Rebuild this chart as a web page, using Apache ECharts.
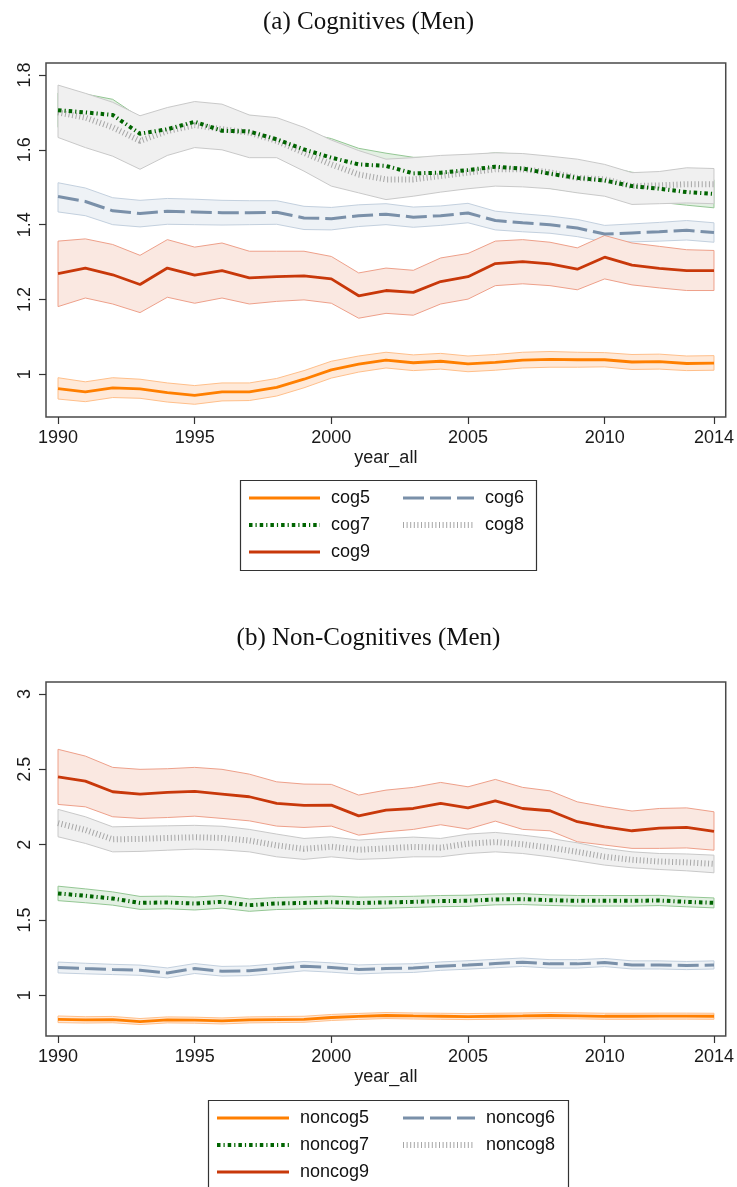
<!DOCTYPE html>
<html>
<head>
<meta charset="utf-8">
<script src="https://cdn.jsdelivr.net/npm/echarts@6/dist/echarts.min.js"></script>
<style>
  html, body { margin: 0; padding: 0; background: #fff; }
  #chart { width: 737px; height: 1187px; }
</style>
</head>
<body>
<div id="chart"></div>
<script>
// Survey years
const years = [1990,1991,1992,1993,1994,1995,1996,1997,1998,1999,2000,2001,2002,2003,2004,2005,2006,2007,2008,2009,2010,2011,2012,2013,2014];
const xTicks = [1990, 1995, 2000, 2005, 2010, 2014];
const yTicksCog = [1, 1.2, 1.4, 1.6, 1.8];
const yTicksNoncog = [1, 1.5, 2, 2.5, 3];

// (a) Cognitive skill groups: point estimate with lower / upper confidence bounds
const cog5   = [0.962,0.953,0.964,0.961,0.951,0.944,0.953,0.953,0.965,0.987,1.012,1.027,1.038,1.031,1.035,1.028,1.032,1.038,1.040,1.039,1.039,1.033,1.034,1.029,1.030];
const cog5Lo = [0.934,0.927,0.938,0.936,0.926,0.920,0.929,0.930,0.942,0.964,0.990,1.006,1.017,1.010,1.014,1.007,1.011,1.017,1.019,1.019,1.020,1.013,1.014,1.010,1.011];
const cog5Hi = [0.991,0.980,0.991,0.987,0.977,0.970,0.977,0.977,0.989,1.010,1.035,1.049,1.059,1.052,1.056,1.049,1.053,1.059,1.061,1.059,1.058,1.053,1.054,1.049,1.050];

const cog6   = [1.475,1.462,1.437,1.430,1.436,1.434,1.432,1.432,1.433,1.418,1.416,1.424,1.428,1.420,1.424,1.431,1.411,1.405,1.400,1.391,1.375,1.378,1.381,1.385,1.379];
const cog6Lo = [1.434,1.424,1.400,1.394,1.401,1.400,1.399,1.400,1.401,1.387,1.386,1.395,1.400,1.393,1.398,1.405,1.386,1.381,1.377,1.368,1.354,1.354,1.356,1.359,1.353];
const cog6Hi = [1.512,1.498,1.472,1.465,1.470,1.468,1.465,1.464,1.464,1.449,1.446,1.453,1.456,1.447,1.450,1.457,1.436,1.429,1.423,1.414,1.398,1.402,1.406,1.411,1.405];

const cog7   = [1.706,1.700,1.693,1.643,1.655,1.675,1.651,1.649,1.628,1.601,1.579,1.561,1.557,1.537,1.539,1.546,1.555,1.550,1.536,1.525,1.518,1.503,1.496,1.487,1.482];
const cog7Lo = [1.660,1.652,1.650,1.600,1.610,1.632,1.607,1.606,1.584,1.556,1.530,1.522,1.523,1.494,1.498,1.507,1.518,1.512,1.497,1.487,1.481,1.466,1.460,1.452,1.445];
const cog7Hi = [1.752,1.749,1.735,1.686,1.700,1.718,1.695,1.692,1.672,1.646,1.630,1.604,1.591,1.580,1.580,1.585,1.592,1.588,1.575,1.563,1.555,1.540,1.533,1.525,1.520];

const cog8   = [1.700,1.686,1.660,1.624,1.650,1.666,1.655,1.646,1.624,1.592,1.561,1.534,1.521,1.521,1.530,1.539,1.548,1.548,1.540,1.525,1.521,1.503,1.505,1.508,1.508];
const cog8Lo = [1.633,1.606,1.583,1.548,1.585,1.606,1.600,1.579,1.579,1.543,1.503,1.485,1.467,1.476,1.487,1.496,1.503,1.501,1.496,1.485,1.476,1.454,1.456,1.458,1.456];
const cog8Hi = [1.773,1.751,1.727,1.691,1.713,1.729,1.722,1.693,1.686,1.660,1.626,1.598,1.575,1.579,1.585,1.588,1.592,1.590,1.583,1.575,1.561,1.539,1.542,1.552,1.550];

const cog9   = [1.269,1.284,1.266,1.240,1.284,1.265,1.277,1.258,1.261,1.263,1.255,1.210,1.224,1.219,1.248,1.261,1.296,1.301,1.295,1.281,1.313,1.292,1.283,1.277,1.277];
const cog9Lo = [1.181,1.204,1.188,1.165,1.206,1.190,1.204,1.188,1.195,1.199,1.190,1.150,1.163,1.158,1.188,1.201,1.237,1.242,1.237,1.226,1.255,1.239,1.231,1.224,1.224];
const cog9Hi = [1.356,1.362,1.347,1.318,1.360,1.340,1.351,1.329,1.329,1.329,1.315,1.271,1.284,1.278,1.311,1.323,1.356,1.360,1.353,1.338,1.371,1.351,1.342,1.333,1.331];

// (b) Non-cognitive skill groups
const noncog5   = [0.840,0.836,0.838,0.825,0.836,0.834,0.829,0.836,0.838,0.840,0.852,0.859,0.865,0.862,0.860,0.858,0.860,0.862,0.865,0.863,0.860,0.860,0.861,0.861,0.860];
const noncog5Lo = [0.818,0.815,0.817,0.805,0.816,0.814,0.809,0.816,0.818,0.820,0.832,0.839,0.845,0.842,0.840,0.838,0.840,0.842,0.845,0.843,0.840,0.840,0.841,0.841,0.840];
const noncog5Hi = [0.862,0.857,0.859,0.845,0.856,0.854,0.849,0.856,0.858,0.860,0.872,0.879,0.885,0.882,0.880,0.878,0.880,0.882,0.885,0.883,0.880,0.880,0.881,0.881,0.880];

const noncog6   = [1.184,1.177,1.171,1.166,1.148,1.177,1.159,1.162,1.177,1.193,1.184,1.171,1.177,1.180,1.193,1.201,1.210,1.219,1.208,1.208,1.217,1.201,1.201,1.197,1.201];
const noncog6Lo = [1.148,1.142,1.137,1.132,1.115,1.144,1.127,1.130,1.145,1.162,1.153,1.141,1.148,1.151,1.165,1.173,1.182,1.191,1.180,1.180,1.190,1.174,1.174,1.170,1.174];
const noncog6Hi = [1.220,1.212,1.205,1.200,1.181,1.210,1.191,1.194,1.209,1.224,1.215,1.201,1.206,1.209,1.221,1.229,1.238,1.247,1.236,1.236,1.244,1.228,1.228,1.224,1.228];

const noncog7   = [1.676,1.660,1.642,1.613,1.616,1.609,1.620,1.598,1.609,1.613,1.618,1.612,1.616,1.620,1.625,1.627,1.636,1.638,1.631,1.627,1.627,1.627,1.629,1.620,1.613];
const noncog7Lo = [1.628,1.614,1.598,1.570,1.574,1.566,1.578,1.557,1.569,1.573,1.578,1.573,1.578,1.583,1.588,1.590,1.600,1.602,1.596,1.592,1.592,1.592,1.595,1.587,1.580];
const noncog7Hi = [1.724,1.706,1.686,1.656,1.658,1.652,1.662,1.639,1.649,1.653,1.658,1.651,1.654,1.657,1.662,1.664,1.672,1.674,1.666,1.662,1.662,1.662,1.663,1.653,1.646];

const noncog8   = [2.143,2.097,2.035,2.038,2.044,2.049,2.044,2.027,1.995,1.972,1.986,1.966,1.975,1.985,1.980,2.006,2.017,2.002,1.980,1.952,1.920,1.899,1.888,1.882,1.872];
const noncog8Lo = [2.052,2.008,1.952,1.955,1.963,1.970,1.965,1.952,1.919,1.902,1.919,1.902,1.908,1.919,1.919,1.941,1.952,1.941,1.919,1.892,1.864,1.846,1.835,1.826,1.813];
const noncog8Hi = [2.234,2.185,2.118,2.122,2.125,2.128,2.122,2.101,2.070,2.041,2.052,2.030,2.041,2.050,2.041,2.070,2.081,2.063,2.041,2.012,1.975,1.952,1.941,1.938,1.930];

const noncog9   = [2.450,2.422,2.351,2.336,2.347,2.353,2.336,2.318,2.274,2.260,2.262,2.191,2.229,2.240,2.274,2.244,2.291,2.240,2.225,2.152,2.118,2.092,2.110,2.114,2.088];
const noncog9Lo = [2.267,2.251,2.185,2.174,2.180,2.189,2.174,2.158,2.123,2.114,2.123,2.063,2.085,2.101,2.132,2.103,2.156,2.101,2.092,2.019,1.997,1.975,1.975,1.978,1.963];
const noncog9Hi = [2.633,2.588,2.513,2.500,2.504,2.513,2.500,2.468,2.417,2.402,2.400,2.329,2.362,2.380,2.413,2.384,2.433,2.380,2.357,2.284,2.251,2.223,2.240,2.244,2.218];

// Line and band styles for the five groups
const STYLE = {
  g5: { color: '#ff7f00', width: 2.8, type: 'solid',          fill: '#ffe9d8', edge: '#ffbf8a' },
  g6: { color: '#7a90a9', width: 3,   type: [21, 6],          fill: '#eef2f6', edge: '#c3d0de' },
  g7: { color: '#006400', width: 4,   type: [3.5, 3, 1.2, 3], fill: '#e3f0e3', edge: '#94c794' },
  g8: { color: '#a6a6a6', width: 6,   type: [1, 2.6],         fill: '#f0f0f0', edge: '#c9c9c9' },
  g9: { color: '#c8380a', width: 2.8, type: 'solid',          fill: '#fae8e1', edge: '#eea08a' }
};

const SANS = 'Liberation Sans, Arial, sans-serif';
const SERIF = 'Liberation Serif, Times New Roman, serif';

// Confidence band drawn as one polygon through the axis scales
function band(gi, lo, hi, st) {
  return {
    type: 'custom', xAxisIndex: gi, yAxisIndex: gi, z: 2, silent: true,
    data: years.map((y, i) => [y, lo[i], hi[i]]),
    encode: { x: 0, y: [1, 2] },
    renderItem: function (params, api) {
      if (params.dataIndex !== 0) return null;
      const upper = years.map((y, i) => api.coord([y, hi[i]]));
      const lower = years.map((y, i) => api.coord([y, lo[i]])).reverse();
      return {
        type: 'polygon',
        shape: { points: upper.concat(lower) },
        style: { fill: st.fill, stroke: st.edge, lineWidth: 1 }
      };
    }
  };
}

function line(gi, name, vals, st) {
  return {
    type: 'line', name: name, xAxisIndex: gi, yAxisIndex: gi, z: 3,
    data: years.map((y, i) => [y, vals[i]]),
    symbol: 'none', silent: true, animation: false,
    itemStyle: { color: st.color },
    lineStyle: { color: st.color, width: st.width, type: st.type, cap: 'butt' }
  };
}

function xAxis(gi) {
  return {
    type: 'value', gridIndex: gi, min: 1989.56, max: 2014.43,
    axisLine: { show: false }, splitLine: { show: false },
    axisTick: { show: true, length: 7, customValues: xTicks, lineStyle: { color: '#333', width: 1.2 } },
    axisLabel: { customValues: xTicks, margin: 12, fontSize: 18, fontFamily: SANS, color: '#1a1a1a',
      formatter: v => String(v) },
    name: 'year_all', nameLocation: 'middle', nameGap: 32,
    nameTextStyle: { fontSize: 18, fontFamily: SANS, color: '#1a1a1a' }
  };
}

function yAxis(gi, min, max, ticks) {
  return {
    type: 'value', gridIndex: gi, min: min, max: max,
    axisLine: { show: false }, splitLine: { show: false },
    axisTick: { show: true, length: 7, customValues: ticks, lineStyle: { color: '#333', width: 1.2 } },
    axisLabel: {
      customValues: ticks, rotate: 90, margin: 12, fontSize: 18, fontFamily: SANS, color: '#1a1a1a',
      formatter: v => String(v)
    }
  };
}

// Legend entries carry the same stroke as the plotted lines
function legendItem(name, st) {
  return { name: name, lineStyle: { color: st.color, width: st.width, type: st.type, cap: 'butt' } };
}

function legend(items, left, top, w) {
  return {
    data: items, left: left, top: top, orient: 'vertical', padding: 0,
    itemWidth: w, itemHeight: 14, itemGap: 7, selectedMode: false,
    itemStyle: { color: 'rgba(0,0,0,0)', borderWidth: 0 },
    textStyle: { fontSize: 18, fontFamily: SANS, color: '#111', lineHeight: 20, padding: [0, 0, 0, 6] }
  };
}

const chart = echarts.init(document.getElementById('chart'), null, { renderer: 'canvas' });

chart.setOption({
  animation: false,
  backgroundColor: '#ffffff',
  title: [
    { text: '(a) Cognitives (Men)', left: 'center', top: 5,
      textStyle: { fontFamily: SERIF, fontSize: 25, fontWeight: 'normal', color: '#111' } },
    { text: '(b) Non-Cognitives (Men)', left: 'center', top: 621,
      textStyle: { fontFamily: SERIF, fontSize: 25, fontWeight: 'normal', color: '#111' } }
  ],
  grid: [
    { left: 46, top: 63, width: 681, height: 354, show: true, borderColor: '#4a4a4a', borderWidth: 1.5 },
    { left: 46, top: 682, width: 681, height: 354, show: true, borderColor: '#4a4a4a', borderWidth: 1.5 }
  ],
  xAxis: [xAxis(0), xAxis(1)],
  yAxis: [yAxis(0, 0.886, 1.832, yTicksCog), yAxis(1, 0.729, 3.08, yTicksNoncog)],
  legend: [
    legend([legendItem('cog5', STYLE.g5), legendItem('cog7', STYLE.g7), legendItem('cog9', STYLE.g9)], 247, 488, 71),
    legend([legendItem('cog6', STYLE.g6), legendItem('cog8', STYLE.g8)], 400, 488, 71),
    legend([legendItem('noncog5', STYLE.g5), legendItem('noncog7', STYLE.g7), legendItem('noncog9', STYLE.g9)], 215, 1108, 72),
    legend([legendItem('noncog6', STYLE.g6), legendItem('noncog8', STYLE.g8)], 400, 1108, 72)
  ],
  graphic: [
    { type: 'rect', left: 238, top: 478, shape: { width: 296, height: 90 },
      style: { fill: 'none', stroke: '#333', lineWidth: 1.2 }, silent: true },
    { type: 'rect', left: 206, top: 1098, shape: { width: 360, height: 95 },
      style: { fill: 'none', stroke: '#333', lineWidth: 1.2 }, silent: true }
  ],
  series: [
    band(0, cog5Lo, cog5Hi, STYLE.g5),
    band(0, cog6Lo, cog6Hi, STYLE.g6),
    band(0, cog7Lo, cog7Hi, STYLE.g7),
    band(0, cog8Lo, cog8Hi, STYLE.g8),
    band(0, cog9Lo, cog9Hi, STYLE.g9),
    line(0, 'cog5', cog5, STYLE.g5),
    line(0, 'cog6', cog6, STYLE.g6),
    line(0, 'cog8', cog8, STYLE.g8),
    line(0, 'cog7', cog7, STYLE.g7),
    line(0, 'cog9', cog9, STYLE.g9),

    band(1, noncog5Lo, noncog5Hi, STYLE.g5),
    band(1, noncog6Lo, noncog6Hi, STYLE.g6),
    band(1, noncog7Lo, noncog7Hi, STYLE.g7),
    band(1, noncog8Lo, noncog8Hi, STYLE.g8),
    band(1, noncog9Lo, noncog9Hi, STYLE.g9),
    line(1, 'noncog5', noncog5, STYLE.g5),
    line(1, 'noncog6', noncog6, STYLE.g6),
    line(1, 'noncog8', noncog8, STYLE.g8),
    line(1, 'noncog7', noncog7, STYLE.g7),
    line(1, 'noncog9', noncog9, STYLE.g9)
  ]
});
</script>
</body>
</html>
